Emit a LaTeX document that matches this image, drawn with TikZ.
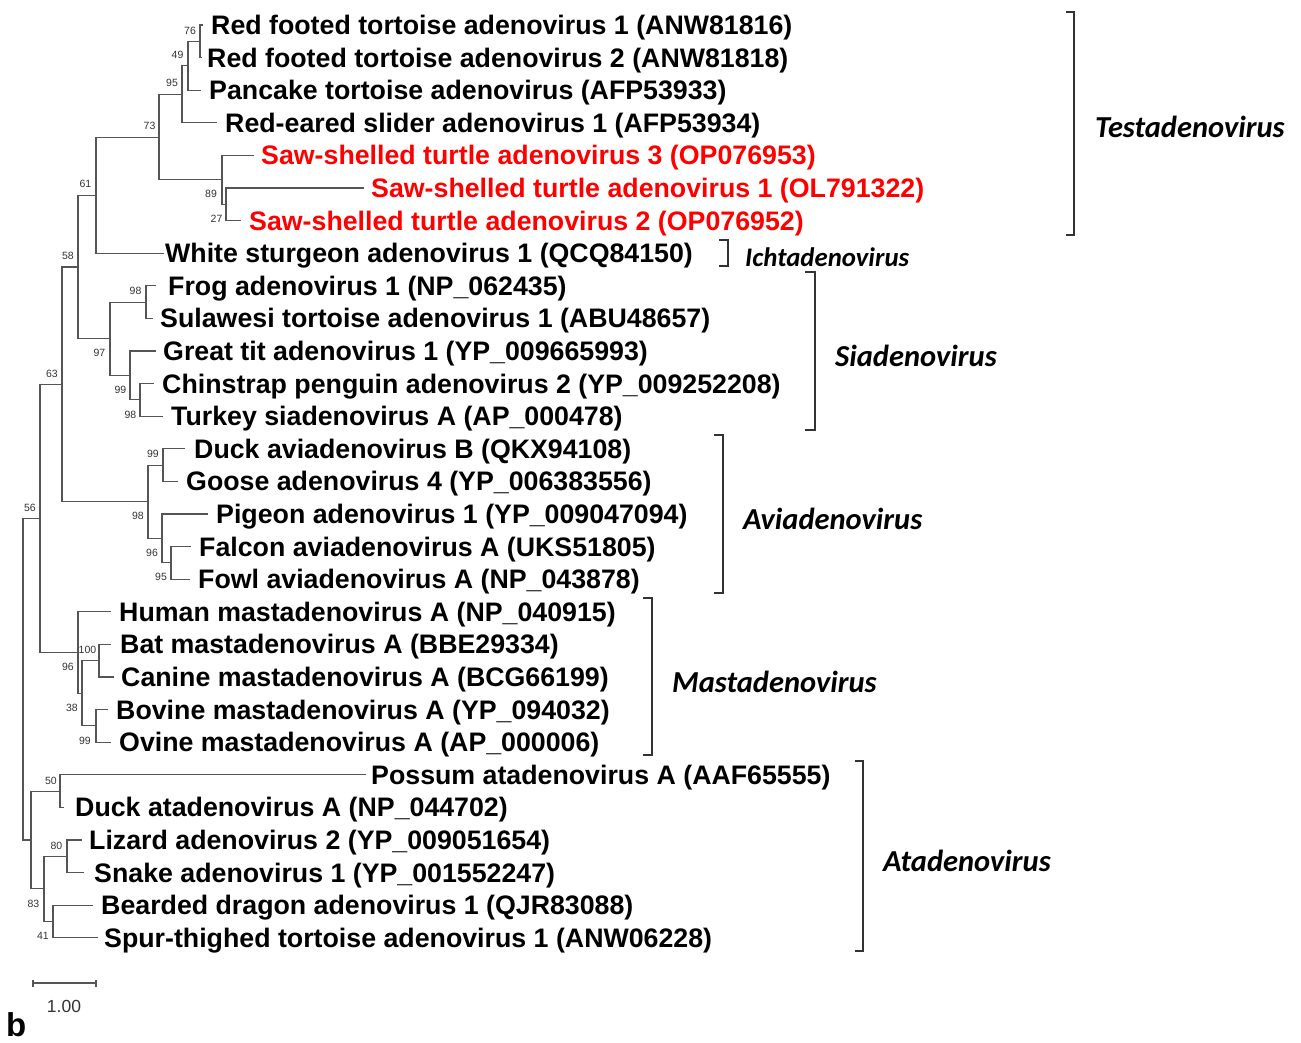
\documentclass[tikz,border=0pt]{standalone}
\usepackage{fontspec}
\setmainfont{Liberation Sans}
\newfontfamily\genusfont{Carlito}
\definecolor{treegray}{HTML}{555555}
\definecolor{brgray}{HTML}{333333}
\definecolor{bootgray}{HTML}{333333}
\definecolor{novred}{HTML}{FF0000}
\begin{document}
\begin{tikzpicture}[x=1pt,y=-1pt,
  br/.style={draw=treegray, line width=1.1pt, line cap=rect},
  bracket/.style={draw=brgray, line width=1.5pt},
  leaf/.style={anchor=base west, inner sep=0pt, font=\fontsize{26.75}{28}\selectfont\bfseries},
  newleaf/.style={leaf, text=novred},
  boot/.style={inner sep=0pt, text=bootgray, font=\fontsize{10.5}{11}\selectfont},
  genus/.style={anchor=base west, inner sep=0pt, font=\genusfont\fontsize{30.5}{32}\selectfont\bfseries\itshape},
  smallgenus/.style={genus, font=\genusfont\fontsize{26.8}{28}\selectfont\bfseries\itshape}]
\useasboundingbox (0,0) rectangle (1301,1043);

% leaf tips
\coordinate (t0) at (202,25);
\coordinate (t1) at (201,57.6);
\coordinate (t2) at (200,90.2);
\coordinate (t3) at (216,122.8);
\coordinate (t4) at (253,155.4);
\coordinate (t5) at (363,188);
\coordinate (t6) at (240,220.6);
\coordinate (t7) at (163,253.2);
\coordinate (t8) at (155,285.8);
\coordinate (t9) at (152,318.4);
\coordinate (t10) at (155,351);
\coordinate (t11) at (153,383.6);
\coordinate (t12) at (162,416.2);
\coordinate (t13) at (184,448.8);
\coordinate (t14) at (177,481.4);
\coordinate (t15) at (207,514);
\coordinate (t16) at (190,546.6);
\coordinate (t17) at (189,579.2);
\coordinate (t18) at (110,611.8);
\coordinate (t19) at (110,644.4);
\coordinate (t20) at (113,677);
\coordinate (t21) at (107,709.6);
\coordinate (t22) at (110,742.2);
\coordinate (t23) at (365,774.8);
\coordinate (t24) at (63,807.4);
\coordinate (t25) at (81,840);
\coordinate (t26) at (83,872.6);
\coordinate (t27) at (92,905.2);
\coordinate (t28) at (97,937.8);

% internal nodes
\coordinate (n76) at (200,41.3);
\coordinate (n49) at (188,65.75);
\coordinate (n95) at (182,94.3);
\coordinate (n27) at (226,204.3);
\coordinate (n89) at (222,179.85);
\coordinate (n73) at (159,137.1);
\coordinate (n61) at (96,195.15);
\coordinate (nF98) at (146,302.1);
\coordinate (nC98) at (140,399.9);
\coordinate (n99s) at (130,375.45);
\coordinate (n97) at (110,338.8);
\coordinate (n58) at (78,267);
\coordinate (nD99) at (163,465.1);
\coordinate (nFa95) at (171,562.9);
\coordinate (n96a) at (162,538.45);
\coordinate (n98a) at (148,501.8);
\coordinate (n63) at (62,384.4);
\coordinate (nB100) at (99,660.7);
\coordinate (nO99) at (96,725.9);
\coordinate (n38) at (82,693.3);
\coordinate (n96m) at (78,652.55);
\coordinate (n56) at (40,518.5);
\coordinate (n50) at (60,791.1);
\coordinate (n80) at (67,856.3);
\coordinate (n41) at (53,921.5);
\coordinate (n83) at (44,888.9);
\coordinate (nAt) at (31,840);
\coordinate (root) at (23,679.25);

% branches
\draw[br] (n76) |- (t0);   \draw[br] (n76) |- (t1);
\draw[br] (n49) |- (n76);  \draw[br] (n49) |- (t2);
\draw[br] (n95) |- (n49);  \draw[br] (n95) |- (t3);
\draw[br] (n27) |- (t5);   \draw[br] (n27) |- (t6);
\draw[br] (n89) |- (t4);   \draw[br] (n89) |- (n27);
\draw[br] (n73) |- (n95);  \draw[br] (n73) |- (n89);
\draw[br] (n61) |- (n73);  \draw[br] (n61) |- (t7);
\draw[br] (nF98) |- (t8);  \draw[br] (nF98) |- (t9);
\draw[br] (nC98) |- (t11); \draw[br] (nC98) |- (t12);
\draw[br] (n99s) |- (t10); \draw[br] (n99s) |- (nC98);
\draw[br] (n97) |- (nF98); \draw[br] (n97) |- (n99s);
\draw[br] (n58) |- (n61);  \draw[br] (n58) |- (n97);
\draw[br] (nD99) |- (t13); \draw[br] (nD99) |- (t14);
\draw[br] (nFa95) |- (t16); \draw[br] (nFa95) |- (t17);
\draw[br] (n96a) |- (t15); \draw[br] (n96a) |- (nFa95);
\draw[br] (n98a) |- (nD99); \draw[br] (n98a) |- (n96a);
\draw[br] (n63) |- (n58);  \draw[br] (n63) |- (n98a);
\draw[br] (nB100) |- (t19); \draw[br] (nB100) |- (t20);
\draw[br] (nO99) |- (t21); \draw[br] (nO99) |- (t22);
\draw[br] (n38) |- (nB100); \draw[br] (n38) |- (nO99);
\draw[br] (n96m) |- (t18); \draw[br] (n96m) |- (n38);
\draw[br] (n56) |- (n63);  \draw[br] (n56) |- (n96m);
\draw[br] (n50) |- (t23);  \draw[br] (n50) |- (t24);
\draw[br] (n80) |- (t25);  \draw[br] (n80) |- (t26);
\draw[br] (n41) |- (t27);  \draw[br] (n41) |- (t28);
\draw[br] (n83) |- (n80);  \draw[br] (n83) |- (n41);
\draw[br] (nAt) |- (n50);  \draw[br] (nAt) |- (n83);
\draw[br] (root) |- (n56); \draw[br] (root) |- (nAt);

% leaf labels
\node[leaf] (L0) at (211,34.5) {Red footed tortoise adenovirus 1 (ANW81816)};
\node[leaf] (L1) at (207,67.1) {Red footed tortoise adenovirus 2 (ANW81818)};
\node[leaf] (L2) at (209,99.7) {Pancake tortoise adenovirus (AFP53933)};
\node[leaf] (L3) at (225,132.3) {Red-eared slider adenovirus 1 (AFP53934)};
\node[newleaf] (L4) at (261,164.9) {Saw-shelled turtle adenovirus 3 (OP076953)};
\node[newleaf] (L5) at (371,197.5) {Saw-shelled turtle adenovirus 1 (OL791322)};
\node[newleaf] (L6) at (249,230.1) {Saw-shelled turtle adenovirus 2 (OP076952)};
\node[leaf] (L7) at (165,262.7) {White sturgeon adenovirus 1 (QCQ84150)};
\node[leaf] (L8) at (168,295.3) {Frog adenovirus 1 (NP\_062435)};
\node[leaf] (L9) at (160,327.9) {Sulawesi tortoise adenovirus 1 (ABU48657)};
\node[leaf] (L10) at (163,360.5) {Great tit adenovirus 1 (YP\_009665993)};
\node[leaf] (L11) at (162,393.1) {Chinstrap penguin adenovirus 2 (YP\_009252208)};
\node[leaf] (L12) at (171,425.7) {Turkey siadenovirus A (AP\_000478)};
\node[leaf] (L13) at (194,458.3) {Duck aviadenovirus B (QKX94108)};
\node[leaf] (L14) at (186,490.9) {Goose adenovirus 4 (YP\_006383556)};
\node[leaf] (L15) at (216,523.5) {Pigeon adenovirus 1 (YP\_009047094)};
\node[leaf] (L16) at (199,556.1) {Falcon aviadenovirus A (UKS51805)};
\node[leaf] (L17) at (198,588.7) {Fowl aviadenovirus A (NP\_043878)};
\node[leaf] (L18) at (119,621.3) {Human mastadenovirus A (NP\_040915)};
\node[leaf] (L19) at (120,653.9) {Bat mastadenovirus A (BBE29334)};
\node[leaf] (L20) at (121,686.5) {Canine mastadenovirus A (BCG66199)};
\node[leaf] (L21) at (116,719.1) {Bovine mastadenovirus A (YP\_094032)};
\node[leaf] (L22) at (119,751.7) {Ovine mastadenovirus A (AP\_000006)};
\node[leaf] (L23) at (371,784.3) {Possum atadenovirus A (AAF65555)};
\node[leaf] (L24) at (75,816.9) {Duck atadenovirus A (NP\_044702)};
\node[leaf] (L25) at (89,849.5) {Lizard adenovirus 2 (YP\_009051654)};
\node[leaf] (L26) at (94,882.1) {Snake adenovirus 1 (YP\_001552247)};
\node[leaf] (L27) at (101,914.7) {Bearded dragon adenovirus 1 (QJR83088)};
\node[leaf] (L28) at (104,947.3) {Spur-thighed tortoise adenovirus 1 (ANW06228)};

% bootstrap values
\node[boot] (b76) at (190,30.5) {76};
\node[boot] (b49) at (177.5,54.5) {49};
\node[boot] (b95) at (172,83) {95};
\node[boot] (b73) at (149.5,126) {73};
\node[boot] (b89) at (211,193.5) {89};
\node[boot] (b27) at (216.5,218.5) {27};
\node[boot] (b61) at (85.5,184) {61};
\node[boot] (b58) at (68,256) {58};
\node[boot] (bF98) at (135.5,291) {98};
\node[boot] (b97) at (99.5,353) {97};
\node[boot] (b99s) at (120.5,389.5) {99};
\node[boot] (bC98) at (130.5,414.5) {98};
\node[boot] (b63) at (52,373.5) {63};
\node[boot] (bD99) at (153,453.5) {99};
\node[boot] (b98a) at (138,516) {98};
\node[boot] (b96a) at (152,553) {96};
\node[boot] (bFa95) at (161,577) {95};
\node[boot] (b56) at (30,508) {56};
\node[boot] (b100) at (87.5,649.5) {100};
\node[boot] (b96m) at (68,667) {96};
\node[boot] (b38) at (72,708) {38};
\node[boot] (bO99) at (85,740.5) {99};
\node[boot] (b50) at (51,780.5) {50};
\node[boot] (b80) at (56.5,845.5) {80};
\node[boot] (b83) at (33.5,903.5) {83};
\node[boot] (b41) at (43,935.5) {41};

% genus brackets
\draw[bracket] (1066,12) -- (1074,12) -- (1074,235) -- (1066,235);
\draw[bracket] (719,240) -- (728,240) -- (728,266) -- (719,266);
\draw[bracket] (805,272) -- (815,272) -- (815,430) -- (805,430);
\draw[bracket] (714,435) -- (723,435) -- (723,593) -- (714,593);
\draw[bracket] (643,598) -- (652,598) -- (652,755) -- (643,755);
\draw[bracket] (855,761) -- (863,761) -- (863,951) -- (855,951);

\node[genus] (gTesta) at (1095,138) {Testadenovirus};
\node[smallgenus] (gIchta) at (745,266) {Ichtadenovirus};
\node[genus] (gSia) at (835,366) {Siadenovirus};
\node[genus] (gAvi) at (743,529) {Aviadenovirus};
\node[genus] (gMasta) at (672,692) {Mastadenovirus};
\node[genus] (gAta) at (883,871) {Atadenovirus};

% scale bar
\coordinate (sbL) at (33,983);
\coordinate (sbR) at (96,983);
\draw[br, line width=1.3pt, line cap=butt] (sbL) -- (sbR);
\draw[br, line width=1.1pt, line cap=butt] ([yshift=-3.5pt]sbL) -- ([yshift=3.5pt]sbL);
\draw[br, line width=1.1pt, line cap=butt] ([yshift=-3.5pt]sbR) -- ([yshift=3.5pt]sbR);
\node[inner sep=0pt, text=bootgray, font=\fontsize{17.5}{19}\selectfont] (sbLabel) at (64,1006.5) {1.00};

% panel letter
\node[anchor=base west, inner sep=0pt, font=\fontsize{33}{35}\selectfont\bfseries] (panel) at (6,1036) {b};
\end{tikzpicture}
\end{document}
